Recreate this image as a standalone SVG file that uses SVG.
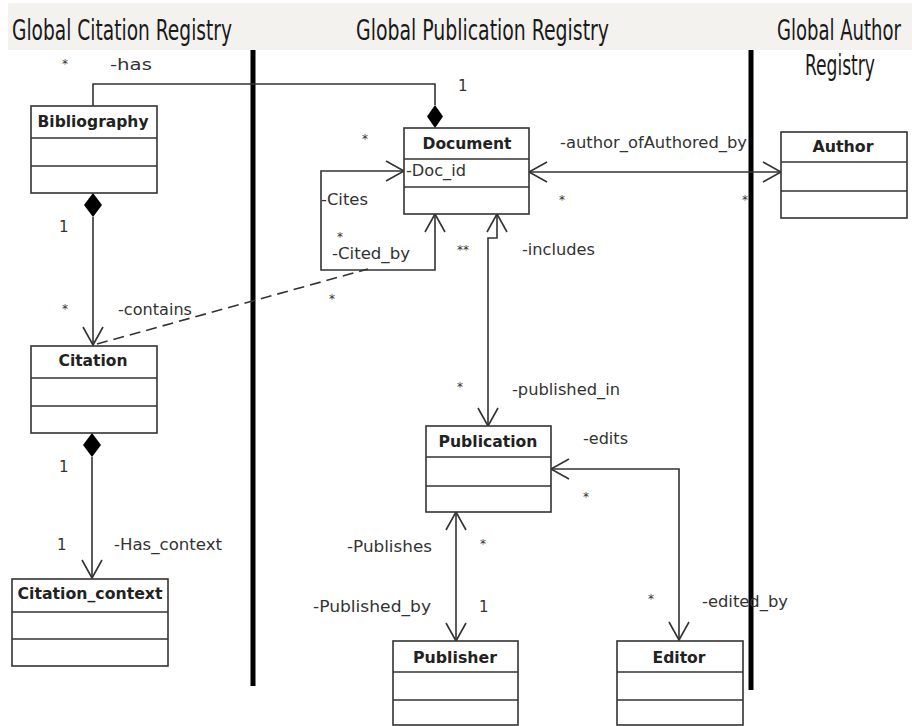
<svg xmlns="http://www.w3.org/2000/svg" width="912" height="726" viewBox="0 0 912 726">
<style>
.hdr{font-family:"DejaVu Sans Condensed","Liberation Sans Narrow","Liberation Sans",sans-serif;font-size:28px;fill:#1a1a1a}
.box{fill:#fff;stroke:#333;stroke-width:1.6}
.div{stroke:#333;stroke-width:1.6}
.ttl{font-family:"DejaVu Sans",sans-serif;font-weight:bold;font-size:15px;fill:#222;text-anchor:middle}
.lbl{font-family:"DejaVu Sans",sans-serif;font-size:15px;fill:#333}
.ast{font-family:"DejaVu Sans",sans-serif;font-size:12px;fill:#333;text-anchor:middle}
.ln{fill:none;stroke:#333;stroke-width:1.6}
.wall{stroke:#000;stroke-width:5}
</style>
<defs>
<marker id="arr" viewBox="-20 -12 22 24" markerWidth="22" markerHeight="24" refX="0" refY="0" markerUnits="userSpaceOnUse" orient="auto-start-reverse">
<path d="M-18,-10 L0,0 L-18,10" fill="none" stroke="#333" stroke-width="1.6"/>
</marker>
</defs>
<rect width="912" height="726" fill="#fff"/>
<g id="header">
<rect x="8" y="3" width="904" height="47" fill="#f3f2ef"/>
<text class="hdr" x="12" y="40" textLength="220" lengthAdjust="spacingAndGlyphs">Global Citation Registry</text>
<text class="hdr" x="356" y="40" textLength="253" lengthAdjust="spacingAndGlyphs">Global Publication Registry</text>
<text class="hdr" x="777" y="40" textLength="124" lengthAdjust="spacingAndGlyphs">Global Author</text>
<text class="hdr" x="805" y="75" textLength="70" lengthAdjust="spacingAndGlyphs">Registry</text>
</g>
<g id="walls">
<line class="wall" x1="253" y1="50" x2="253" y2="686"/>
<line class="wall" x1="751" y1="50" x2="751" y2="690"/>
</g>
<g id="connectors">
<path class="ln" d="M93,106 V84 H435 V105"/>
<polygon points="435,105 443,116.5 435,128 427,116.5" fill="#000"/>
<polygon points="93,193 102,205 93,217 84,205" fill="#000"/>
<path class="ln" d="M93,217 V345" marker-end="url(#arr)"/>
<polygon points="92,433 101,445 92,457 83,445" fill="#000"/>
<path class="ln" d="M92,457 V578" marker-end="url(#arr)"/>
<path class="ln" d="M404,171 H321 V270 H435 V214" marker-start="url(#arr)" marker-end="url(#arr)"/>
<path class="ln" d="M97,344 L368,269" stroke-dasharray="11 6"/>
<path class="ln" d="M529,172 H781" marker-start="url(#arr)" marker-end="url(#arr)"/>
<path class="ln" d="M497,214 V238 H488 V426" marker-start="url(#arr)" marker-end="url(#arr)"/>
<path class="ln" d="M551,469 H679 V640" marker-start="url(#arr)" marker-end="url(#arr)"/>
<path class="ln" d="M456,512 V641" marker-start="url(#arr)" marker-end="url(#arr)"/>
</g>
<g id="labels">
<text class="ast" x="65" y="68">*</text>
<text class="lbl" x="110" y="70" textLength="42" lengthAdjust="spacingAndGlyphs">-has</text>
<text class="lbl" x="458" y="91">1</text>
<text class="lbl" x="59" y="232">1</text>
<text class="ast" x="65" y="313">*</text>
<text class="lbl" x="118" y="315" textLength="74" lengthAdjust="spacingAndGlyphs">-contains</text>
<text class="ast" x="365" y="143">*</text>
<text class="lbl" x="321" y="205" textLength="47" lengthAdjust="spacingAndGlyphs">-Cites</text>
<text class="ast" x="340" y="241">*</text>
<text class="lbl" x="332" y="259" textLength="78" lengthAdjust="spacingAndGlyphs">-Cited_by</text>
<text class="ast" x="332" y="303">*</text>
<text class="ast" x="463" y="254">**</text>
<text class="lbl" x="560" y="148" textLength="187" lengthAdjust="spacingAndGlyphs">-author_ofAuthored_by</text>
<text class="ast" x="562" y="204">*</text>
<text class="ast" x="745" y="204">*</text>
<text class="lbl" x="522" y="255" textLength="73" lengthAdjust="spacingAndGlyphs">-includes</text>
<text class="ast" x="460" y="391">*</text>
<text class="lbl" x="512" y="395" textLength="108" lengthAdjust="spacingAndGlyphs">-published_in</text>
<text class="lbl" x="583" y="444" textLength="45" lengthAdjust="spacingAndGlyphs">-edits</text>
<text class="ast" x="586" y="501">*</text>
<text class="lbl" x="347" y="552" textLength="85" lengthAdjust="spacingAndGlyphs">-Publishes</text>
<text class="ast" x="483" y="548">*</text>
<text class="lbl" x="313" y="612" textLength="118" lengthAdjust="spacingAndGlyphs">-Published_by</text>
<text class="lbl" x="479" y="612">1</text>
<text class="ast" x="651" y="603">*</text>
<text class="lbl" x="702" y="607" textLength="86" lengthAdjust="spacingAndGlyphs">-edited_by</text>
<text class="lbl" x="59" y="472">1</text>
<text class="lbl" x="57" y="550">1</text>
<text class="lbl" x="114" y="550" textLength="108" lengthAdjust="spacingAndGlyphs">-Has_context</text>
</g>
<g id="Bibliography">
<rect class="box" x="31" y="106" width="126" height="87"/>
<line class="div" x1="31" y1="138" x2="157" y2="138"/>
<line class="div" x1="31" y1="166" x2="157" y2="166"/>
<text class="ttl" x="93" y="127" textLength="111" lengthAdjust="spacingAndGlyphs">Bibliography</text>
</g>
<g id="Citation">
<rect class="box" x="31" y="346" width="126" height="87"/>
<line class="div" x1="31" y1="378" x2="157" y2="378"/>
<line class="div" x1="31" y1="406" x2="157" y2="406"/>
<text class="ttl" x="93" y="366" textLength="69" lengthAdjust="spacingAndGlyphs">Citation</text>
</g>
<g id="Citation_context">
<rect class="box" x="12" y="579" width="156" height="87"/>
<line class="div" x1="12" y1="612" x2="168" y2="612"/>
<line class="div" x1="12" y1="639" x2="168" y2="639"/>
<text class="ttl" x="90" y="599" textLength="145" lengthAdjust="spacingAndGlyphs">Citation_context</text>
</g>
<g id="Document">
<rect class="box" x="404" y="128" width="125" height="86"/>
<line class="div" x1="404" y1="159" x2="529" y2="159"/>
<line class="div" x1="404" y1="187" x2="529" y2="187"/>
<text class="ttl" x="467" y="149" textLength="89" lengthAdjust="spacingAndGlyphs">Document</text>
<text class="lbl" x="406" y="176" textLength="60" lengthAdjust="spacingAndGlyphs">-Doc_id</text>
</g>
<g id="Author">
<rect class="box" x="781" y="132" width="126" height="86"/>
<line class="div" x1="781" y1="162" x2="907" y2="162"/>
<line class="div" x1="781" y1="191" x2="907" y2="191"/>
<text class="ttl" x="843" y="152" textLength="61" lengthAdjust="spacingAndGlyphs">Author</text>
</g>
<g id="Publication">
<rect class="box" x="426" y="426" width="125" height="86"/>
<line class="div" x1="426" y1="457" x2="551" y2="457"/>
<line class="div" x1="426" y1="486" x2="551" y2="486"/>
<text class="ttl" x="488" y="447" textLength="99" lengthAdjust="spacingAndGlyphs">Publication</text>
</g>
<g id="Publisher">
<rect class="box" x="393" y="641" width="125" height="84"/>
<line class="div" x1="393" y1="672" x2="518" y2="672"/>
<line class="div" x1="393" y1="700" x2="518" y2="700"/>
<text class="ttl" x="455" y="663" textLength="84" lengthAdjust="spacingAndGlyphs">Publisher</text>
</g>
<g id="Editor">
<rect class="box" x="617" y="641" width="126" height="84"/>
<line class="div" x1="617" y1="672" x2="743" y2="672"/>
<line class="div" x1="617" y1="700" x2="743" y2="700"/>
<text class="ttl" x="679" y="663" textLength="53" lengthAdjust="spacingAndGlyphs">Editor</text>
</g>
</svg>
